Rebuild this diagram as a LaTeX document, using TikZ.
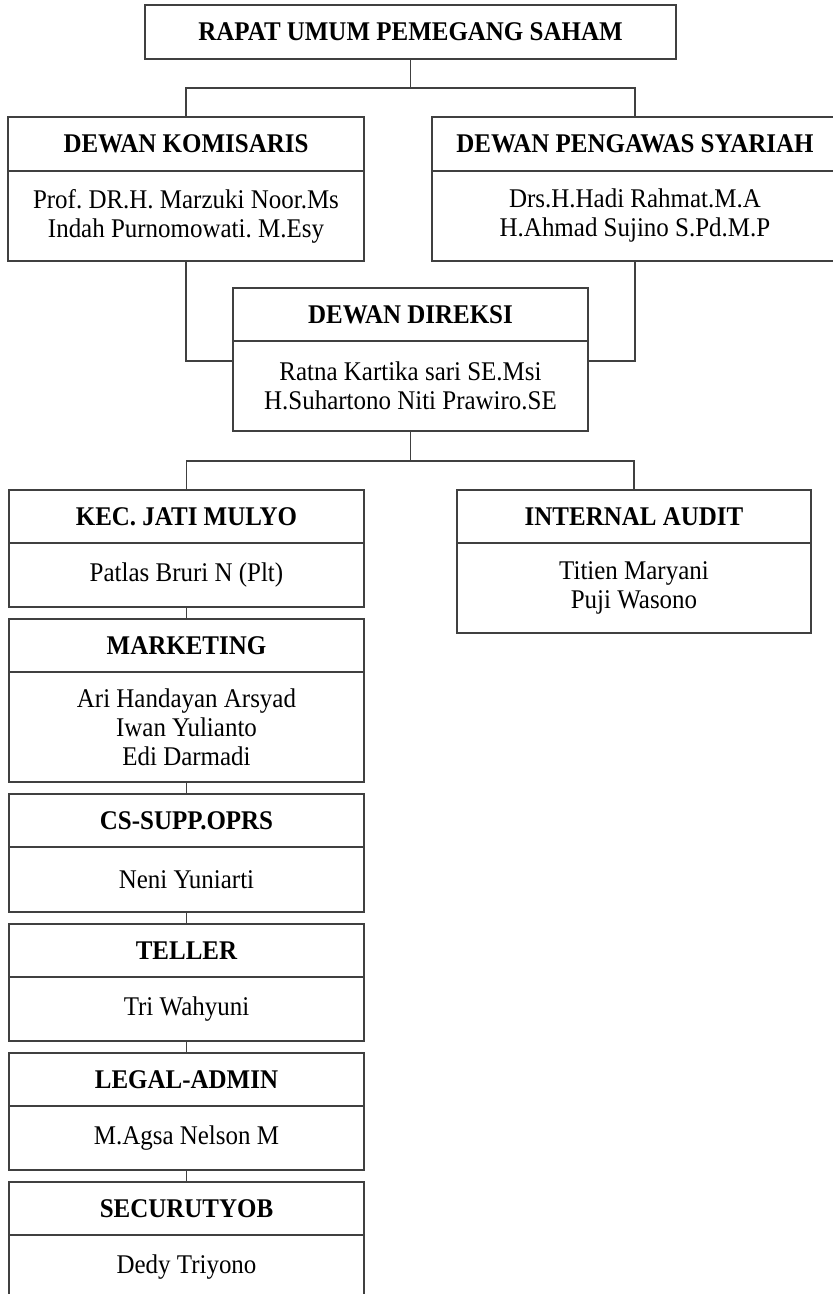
\documentclass[tikz,border=0pt]{standalone}
\usepackage{fontspec}
\setmainfont{Liberation Serif}[FakeStretch=0.925]
\usepackage{tikz}
\usetikzlibrary{positioning}
\frenchspacing

\begin{document}
\begin{tikzpicture}[x=1pt, y=-1pt,
    every node/.style={draw=black!75, line width=1.3pt, inner sep=0pt, outer sep=0pt,
      align=center, font=\fontsize{27}{29}\selectfont},
    head/.style={minimum width=355pt, minimum height=53pt, font=\fontsize{27}{29}\selectfont\bfseries},
    body/.style={minimum width=355pt, below=0pt of #1},
    link/.style={draw=black!75, line width=1.3pt}]
    \useasboundingbox (0,0) rectangle (833,1294);

    % Top level
    \node[head, minimum width=531pt, minimum height=54pt] (rups) at (410.5,32) {RAPAT UMUM PEMEGANG SAHAM};

    % Boards
    \node[head, minimum width=356pt, minimum height=54pt] (komT) at (186,144) {DEWAN KOMISARIS};
    \node[body=komT, minimum width=356pt, minimum height=90pt] (komB) {Prof. DR.H. Marzuki Noor.Ms\\Indah Purnomowati. M.Esy};
    \node[head, minimum width=406pt, minimum height=54pt] (dpsT) at (635,144) {DEWAN PENGAWAS SYARIAH};
    \node[body=dpsT, minimum width=406pt, minimum height=90pt] (dpsB) {Drs.H.Hadi Rahmat.M.A\\H.Ahmad Sujino S.Pd.M.P};
    \node[head] (ddT) at (410.5,314.5) {DEWAN DIREKSI};
    \node[body=ddT, minimum height=90pt] (ddB) {Ratna Kartika sari SE.Msi\\H.Suhartono Niti Prawiro.SE};

    % Units
    \node[head] (kjmT) at (186.5,516.5) {KEC. JATI MULYO};
    \node[body=kjmT, minimum height=64pt] (kjmB) {Patlas Bruri N (Plt)};
    \node[head, minimum width=354pt] (iaT) at (634,516.5) {INTERNAL AUDIT};
    \node[body=iaT, minimum width=354pt, minimum height=90pt] (iaB) {Titien Maryani\\Puji Wasono};

    \node[head, below=12pt of kjmB] (mktT) {MARKETING};
    \node[body=mktT, minimum height=110pt] (mktB) {Ari Handayan Arsyad\\Iwan Yulianto\\Edi Darmadi};
    \node[head, below=12pt of mktB] (csT) {CS-SUPP.OPRS};
    \node[body=csT, minimum height=65pt] (csB) {Neni Yuniarti};
    \node[head, below=12pt of csB] (tlrT) {TELLER};
    \node[body=tlrT, minimum height=64pt] (tlrB) {Tri Wahyuni};
    \node[head, below=12pt of tlrB] (lglT) {LEGAL-ADMIN};
    \node[body=lglT, minimum height=64pt] (lglB) {M.Agsa Nelson M};
    \node[head, below=12pt of lglB] (secT) {SECURUTYOB};
    \node[body=secT, minimum height=64pt] (secB) {Dedy Triyono};

    % Connectors
    \coordinate (bar1) at (410.5,88);
    \coordinate (lvl) at (0,361);
    \coordinate (bar2) at (410.5,461);
    \draw[link] (rups.south) -- (bar1) -| (komT.north);
    \draw[link] (bar1) -| (dpsT.north);
    \draw[link] (komB.south) |- (ddB.west |- lvl);
    \draw[link] (dpsB.south) |- (ddB.east |- lvl);
    \draw[link] (ddB.south) -- (bar2) -| (kjmT.north);
    \draw[link] (bar2) -| (iaT.north);
    \foreach \a/\b in {kjmB/mktT, mktB/csT, csB/tlrT, tlrB/lglT, lglB/secT}
      \draw[link] (\a.south) -- (\b.north);
\end{tikzpicture}
\end{document}
